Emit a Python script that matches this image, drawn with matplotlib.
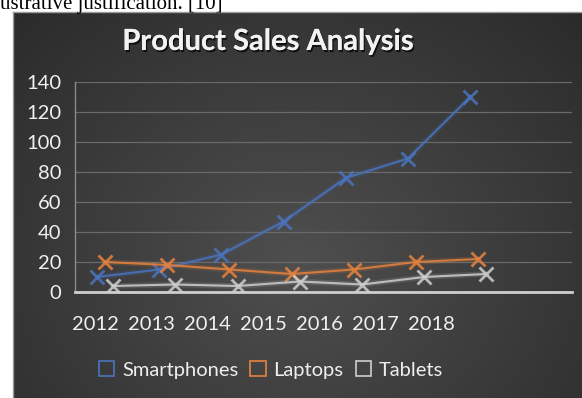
import numpy as np
import matplotlib
matplotlib.use("Agg")
import matplotlib.pyplot as plt
from matplotlib.patches import Patch
import matplotlib.patheffects as pe

# sales per year for each product line
years = ["2012", "2013", "2014", "2015", "2016", "2017", "2018"]
smartphones = [10, 15, 25, 47, 76, 89, 130]
laptops = [20, 18, 15, 12, 15, 20, 22]
tablets = [4, 5, 4, 7, 5, 10, 12]

series_names = ["Smartphones", "Laptops", "Tablets"]
series_colors = ["#4a74c0", "#e8823e", "#cfcfcf"]
series_shift = [0.0, 0.13, 0.26]

W, H = 582, 398
plt.rcParams["font.family"] = ["Lato", "DejaVu Sans"]

fig = plt.figure(figsize=(W / 100, H / 100), dpi=100)
fig.patch.set_facecolor("white")

# page text above the chart
fig.text(0, 1 - 9 / H, "ustrative justification. [10]", family="Liberation Serif",
         fontsize=15, color="black", ha="left", va="baseline")

# dark radial-gradient chart background
bg = fig.add_axes([13 / W, 0, 1 - 13 / W, 1 - 12 / H])
gx, gy = np.meshgrid(np.linspace(0, 1, 300), np.linspace(0, 1, 200))
r = np.sqrt(((gx - 0.5) / 0.7) ** 2 + ((gy - 0.65) / 0.9) ** 2)
shade = np.clip(0.31 - 0.14 * r, 0.16, 0.31)
bg.imshow(np.dstack([shade] * 3), aspect="auto", extent=[0, 1, 0, 1], origin="upper")
bg.set_xticks([])
bg.set_yticks([])
for side, sp in bg.spines.items():
    sp.set_visible(side in ("top", "left"))
    sp.set_color("#9a9a9a")
    sp.set_linewidth(1)

ax = fig.add_axes([75 / W, 1 - 292 / H, (572 - 75) / W, (292 - 82) / H])
ax.set_facecolor("none")

x = np.arange(len(years))
for vals, name, col, dx in zip([smartphones, laptops, tablets], series_names,
                               series_colors, series_shift):
    ax.plot(x + dx, vals, color=col, lw=4, alpha=0.15, solid_capstyle="round")
    ax.plot(x + dx, vals, color=col, lw=1.5, alpha=0.85, marker="x",
            markersize=10, markeredgewidth=2, label=name)

ax.set_ylim(0, 140)
ax.set_yticks(range(0, 141, 20))
ax.set_xlim(-0.354, 7.637)
ax.set_xticks(-0.03 + 0.9 * x)
ax.set_xticklabels(years)
ax.grid(axis="y", color="#6a6a6a", lw=0.9)
ax.set_axisbelow(True)
ax.tick_params(axis="both", length=0, colors="#f0f0f0", labelsize=14.5)
ax.tick_params(axis="x", pad=17)
ax.tick_params(axis="y", pad=10)
for side in ("top", "right"):
    ax.spines[side].set_visible(False)
ax.spines["left"].set_color("#8a8a8a")
ax.spines["left"].set_linewidth(1)
ax.spines["bottom"].set_color("#cfcfcf")
ax.spines["bottom"].set_linewidth(2)

fig.text(268 / W, 1 - 42 / H, "Product Sales Analysis", ha="center", va="center",
         fontsize=21, fontweight="bold", color="#f2f2f2",
         path_effects=[pe.withSimplePatchShadow(offset=(1, -1.5), shadow_rgbFace="black",
                                                alpha=0.7), pe.Normal()])

handles = [Patch(facecolor="none", edgecolor=c, lw=1.2) for c in series_colors]
leg = fig.legend(handles, series_names, loc="center", ncol=3,
                 bbox_to_anchor=(271 / W, 1 - 370 / H), frameon=False, fontsize=14.5,
                 handlelength=0.75, handleheight=0.75, handletextpad=0.4,
                 columnspacing=0.6, labelcolor="#eeeeee")

fig.savefig("out.png", dpi=100)
